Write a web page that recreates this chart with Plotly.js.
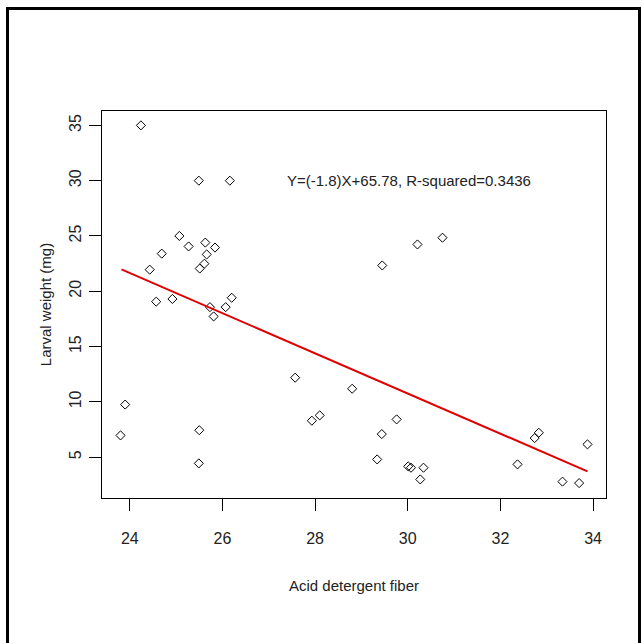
<!DOCTYPE html>
<html>
<head>
<meta charset="utf-8">
<script src="https://cdn.plot.ly/plotly-3.0.1.min.js"></script>
<style>
html,body{margin:0;padding:0;background:#fff;}
#chart{width:642px;height:643px;}
</style>
</head>
<body>
<div id="chart"></div>
<script>
// Acid detergent fiber (x) and larval weight in mg (y)
var fiber = [24.24, 25.49, 26.16, 25.07, 25.27, 25.63, 25.84, 25.66, 25.61, 25.51,
             24.69, 24.43, 24.57, 24.92, 25.73, 25.81, 26.07, 26.20, 23.90, 23.80,
             25.50, 25.49, 29.45, 30.21, 30.75, 27.57, 28.80, 27.93, 28.10, 29.76,
             29.44, 29.34, 30.01, 30.07, 30.34, 30.27, 32.37, 32.74, 32.83, 33.88,
             33.34, 33.70];
var weight = [35.0, 30.0, 30.0, 25.0, 24.05, 24.4, 23.95, 23.33, 22.49, 22.05,
              23.4, 21.95, 19.06, 19.3, 18.56, 17.72, 18.56, 19.41, 9.75, 6.96,
              7.43, 4.43, 22.33, 24.23, 24.84, 12.18, 11.18, 8.29, 8.77, 8.41,
              7.08, 4.79, 4.16, 4.04, 4.04, 2.98, 4.34, 6.72, 7.2, 6.15,
              2.78, 2.65];
// fitted line as drawn (end points)
var fitX = [23.82, 33.88];
var fitY = [21.97, 3.71];
var xTicks = [24, 26, 28, 30, 32, 34];
var yTicks = [5, 10, 15, 20, 25, 30, 35];
var equationText = "Y=(-1.8)X+65.78, R-squared=0.3436";

var font = "Liberation Sans, Arial, sans-serif";

var traces = [
  {x: fiber, y: weight, type: "scatter", mode: "markers",
   marker: {symbol: "diamond-open", size: 7, color: "#000", line: {width: 1, color: "#000"}},
   hoverinfo: "x+y", showlegend: false},
  {x: fitX, y: fitY, type: "scatter", mode: "lines",
   line: {color: "#e00000", width: 2}, showlegend: false}
];

var L = 102, R = 606, T = 111, B = 498;
var pw = R - L, ph = B - T;

var layout = {
  width: 642, height: 643,
  margin: {l: L, r: 642 - R, t: T, b: 643 - B},
  paper_bgcolor: "#fff", plot_bgcolor: "#fff",
  font: {family: font, size: 15, color: "#111"},
  xaxis: {
    range: [23.40, 34.28], tickvals: xTicks, ticktext: xTicks.map(String),
    showgrid: false, zeroline: false, showline: true, mirror: true,
    linecolor: "#000", linewidth: 1,
    ticks: "outside", ticklen: 12, tickcolor: "#000", tickwidth: 1,
    ticklabelstandoff: 14,
    tickfont: {family: font, size: 16, color: "#222"},
    title: {text: "Acid detergent fiber", font: {family: font, size: 15, color: "#222"}, standoff: 34}
  },
  yaxis: {
    range: [1.3, 36.3], tickvals: yTicks, ticktext: yTicks.map(String),
    showgrid: false, zeroline: false, showline: true, mirror: true,
    linecolor: "#000", linewidth: 1,
    ticks: "outside", ticklen: 12, tickcolor: "#000", tickwidth: 1,
    tickangle: -90, ticklabelstandoff: 2,
    tickfont: {family: font, size: 16, color: "#222"},
    title: {text: "Larval weight (mg)", font: {family: font, size: 15, color: "#222"}, standoff: 11}
  },
  annotations: [{
    xref: "x", yref: "y", x: 27.35, y: 30.0, xanchor: "left", yanchor: "middle",
    text: equationText, showarrow: false,
    font: {family: font, size: 15, color: "#222"}
  }],
  shapes: [{
    type: "rect", xref: "paper", yref: "paper",
    x0: (7.5 - L) / pw, x1: (639.5 - L) / pw,
    y0: (B - 660) / ph, y1: (B - 8.5) / ph,
    line: {color: "#000", width: 3}, fillcolor: "rgba(0,0,0,0)"
  }]
};

Plotly.newPlot("chart", traces, layout, {displayModeBar: false, staticPlot: true});
</script>
</body>
</html>
